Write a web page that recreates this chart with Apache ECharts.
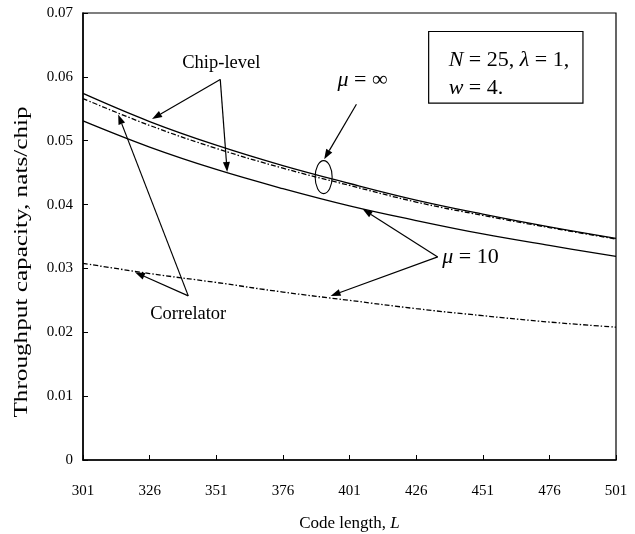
<!DOCTYPE html>
<html lang="en">
<head>
<meta charset="UTF-8">
<title>Throughput capacity vs code length</title>
<style>
    html, body { margin: 0; padding: 0; background: #fff; }
    #container { width: 635px; height: 534px; }
</style>
</head>
<body>
<div id="container"></div>
<script src="https://cdn.jsdelivr.net/npm/echarts@6/dist/echarts.min.js"></script>
<script>
    // values, one per x tick
    var codeLength = [301, 326, 351, 376, 401, 426, 451, 476, 501];
    var chipInf = [0.0574, 0.0530, 0.0493, 0.0461, 0.0433, 0.0407, 0.0385, 0.0365, 0.0347];
    var corrInf = [0.0566, 0.0524, 0.0488, 0.0457, 0.0430, 0.0404, 0.0383, 0.0364, 0.0346];
    var chipTen = [0.0531, 0.0490, 0.0455, 0.0425, 0.0398, 0.0375, 0.0354, 0.0336, 0.0319];
    var corrTen = [0.0308, 0.0292, 0.0278, 0.0263, 0.0250, 0.0237, 0.0226, 0.0216, 0.0208];
    var xTicks = [301, 326, 351, 376, 401, 426, 451, 476, 501];

    // annotation arrows, in data units [L, capacity]
    var chipArrows = { from: [352.5, 0.0596], to: [[326.9, 0.0534], [355.1, 0.0451]] };
    var corrArrows = { from: [340.5, 0.0257], to: [[320.5, 0.0294], [314.2, 0.0541]] };
    var muInfArrow = { from: [403.6, 0.0557], to: [[391.5, 0.0471]] };
    var muTenArrows = { from: [434.1, 0.0318], to: [[405.9, 0.0393], [393.9, 0.0257]] };
    var ellipseAt = [391.3, 0.0443];

    var font = 'Liberation Serif';
    var ec = echarts.init(document.getElementById('container'));

    function pairs(ys) {
        return codeLength.map(function (L, i) { return [L, ys[i]]; });
    }

    function curve(name, ys, dashed) {
        return {
            name: name,
            type: 'line',
            data: pairs(ys),
            showSymbol: false,
            smooth: 0.4,
            silent: true,
            lineStyle: {
                color: '#000',
                width: 1.3,
                type: dashed ? [5, 2, 1.5, 2] : 'solid'
            }
        };
    }

    ec.setOption({
        backgroundColor: '#fff',
        animation: false,
        grid: {
            left: 83, right: 19, top: 13, bottom: 74,
            outerBoundsMode: 'none',
            show: true, borderColor: '#000', borderWidth: 1.2
        },
        xAxis: {
            type: 'value',
            min: 301, max: 501,
            name: 'Code length, {i|L}',
            nameLocation: 'middle',
            nameGap: 55,
            nameTextStyle: {
                fontFamily: font, fontSize: 17, color: '#000',
                rich: { i: { fontFamily: font, fontSize: 17, fontStyle: 'italic', color: '#000' } }
            },
            axisLine: { lineStyle: { color: '#000', width: 1.5 } },
            axisTick: { inside: true, length: 5, customValues: xTicks, lineStyle: { color: '#000' } },
            axisLabel: { customValues: xTicks, margin: 24, fontFamily: font, fontSize: 15, color: '#000' },
            splitLine: { show: false }
        },
        yAxis: {
            type: 'value',
            min: 0, max: 0.07, interval: 0.01,
            axisLine: { show: true, lineStyle: { color: '#000', width: 1.5 } },
            axisTick: { show: true, inside: true, length: 5, lineStyle: { color: '#000' } },
            axisLabel: { margin: 10, fontFamily: font, fontSize: 15, color: '#000' },
            splitLine: { show: false }
        },
        series: [
            curve('Chip-level, mu=inf', chipInf, false),
            curve('Correlator, mu=inf', corrInf, true),
            curve('Chip-level, mu=10', chipTen, false),
            curve('Correlator, mu=10', corrTen, true)
        ]
    });

    function px(p) { return ec.convertToPixel({ gridIndex: 0 }, p); }

    function arrowSet(set) {
        var out = [];
        var a = px(set.from);
        set.to.forEach(function (t) {
            var b = px(t);
            var dx = b[0] - a[0], dy = b[1] - a[1];
            var len = Math.sqrt(dx * dx + dy * dy);
            var ux = dx / len, uy = dy / len;
            var hl = 10, hw = 3.5;
            var bx = b[0] - ux * hl, by = b[1] - uy * hl;
            out.push({
                type: 'line', silent: true,
                shape: { x1: a[0], y1: a[1], x2: bx, y2: by },
                style: { stroke: '#000', lineWidth: 1.2 }
            });
            out.push({
                type: 'polygon', silent: true,
                shape: { points: [[b[0], b[1]], [bx - uy * hw, by + ux * hw], [bx + uy * hw, by - ux * hw]] },
                style: { fill: '#000' }
            });
        });
        return out;
    }

    function label(text, p, size, rich, align) {
        var q = px(p);
        return {
            type: 'text', silent: true, x: q[0], y: q[1],
            style: {
                text: text, fill: '#000', fontFamily: font, fontSize: size,
                align: align || 'center', verticalAlign: 'middle', rich: rich || {}
            }
        };
    }

    var it = { fontFamily: font, fontSize: 22, fontStyle: 'italic', fill: '#000' };
    var up = { fontFamily: font, fontSize: 22, fill: '#000' };
    var c = px(ellipseAt);
    var boxTL = px([430.7, 0.0671]);
    var boxBR = px([488.6, 0.0559]);

    var elements = []
        .concat(arrowSet(chipArrows))
        .concat(arrowSet(corrArrows))
        .concat(arrowSet(muInfArrow))
        .concat(arrowSet(muTenArrows));

    elements.push({
        type: 'ellipse', silent: true,
        shape: { cx: c[0], cy: c[1], rx: 8.5, ry: 16.5 },
        style: { fill: 'none', stroke: '#000', lineWidth: 1.1 }
    });
    elements.push({
        type: 'rect', silent: true,
        shape: { x: boxTL[0], y: boxTL[1], width: boxBR[0] - boxTL[0], height: boxBR[1] - boxTL[1] },
        style: { fill: '#fff', stroke: '#000', lineWidth: 1.2 }
    });
    elements.push(label('Chip-level', [352.9, 0.0621], 18.5));
    elements.push(label('Correlator', [340.5, 0.0228], 18.5));
    elements.push(label('{i|μ}{u| = ∞}', [405.9, 0.0595], 22, { i: it, u: up }));
    elements.push(label('{i|μ}{u| = 10}', [435.8, 0.0317], 22, { i: it, u: up }, 'left'));
    elements.push(label('{i|N}{u| = 25, }{i|λ}{u| = 1,}', [438.2, 0.0626], 22, { i: it, u: up }, 'left'));
    elements.push(label('{i|w}{u| = 4.}', [438.2, 0.0582], 22, { i: it, u: up }, 'left'));

    // y title: the scan shows it stretched along its length
    elements.push({
        type: 'text', silent: true, x: 22, y: 262,
        rotation: Math.PI / 2, scaleX: 1.4,
        style: {
            text: 'Throughput capacity, nats/chip', fill: '#000',
            fontFamily: font, fontSize: 18, align: 'center', verticalAlign: 'middle'
        }
    });

    ec.setOption({ graphic: { elements: elements } });
</script>
</body>
</html>
